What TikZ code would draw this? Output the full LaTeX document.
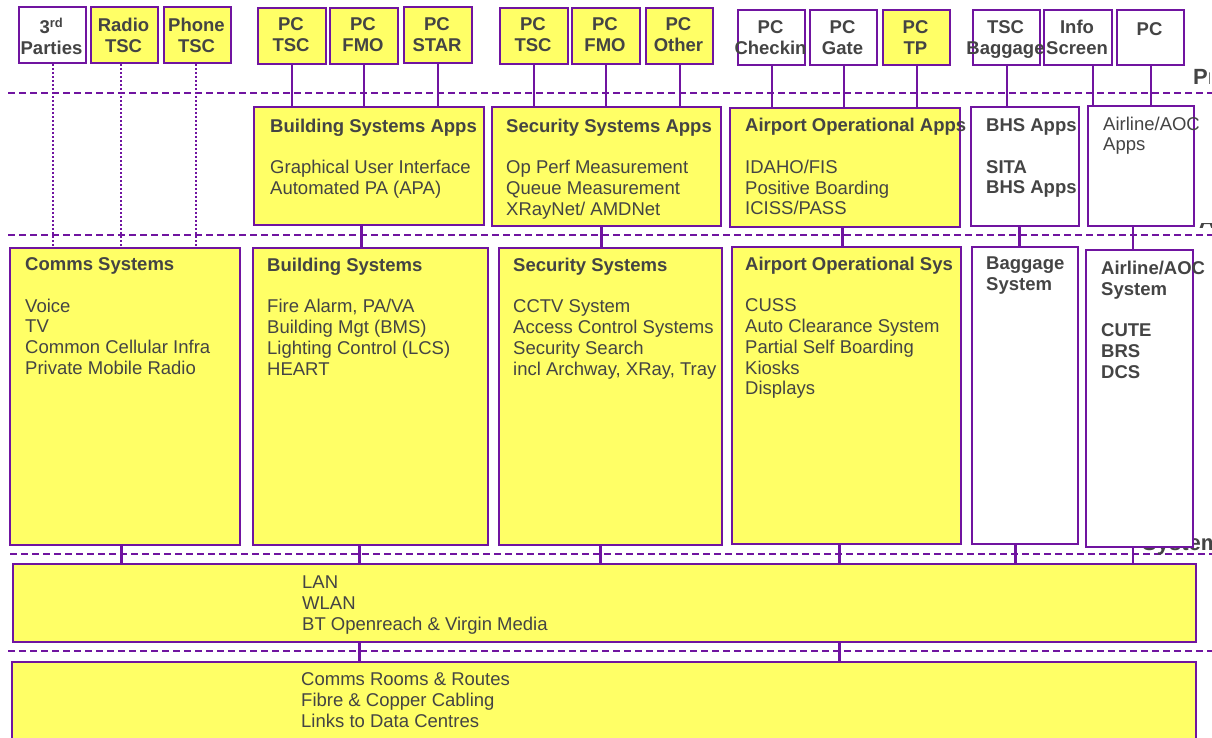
\documentclass[tikz,border=0pt]{standalone}
\usepackage{fontspec}
\setmainfont{Liberation Sans}
\definecolor{pur}{RGB}{112,20,160}
\definecolor{yel}{RGB}{255,255,102}
\definecolor{tgray}{RGB}{68,68,68}
\newcommand\bx[6]{\node[#6, anchor=north west, minimum width={(#4-#2)*1pt}, minimum height={(#5-#3)*1pt}] (#1) at (#2,#3) {};}
\tikzset{
  box/.style={draw=pur, line width=2pt, fill=yel, rectangle, inner sep=0pt},
  wbox/.style={box, fill=white},
  txt/.style={anchor=north west, inner sep=0pt, align=left, text=tgray, font=\fontsize{18.5}{20.8}\selectfont, execute at begin node=\strut, yshift=-2pt},
  btxt/.style={txt, font=\bfseries\fontsize{18.5}{20.8}\selectfont},
  ttxt/.style={anchor=north, inner sep=0pt, align=center, text=tgray, font=\bfseries\fontsize{18.5}{21}\selectfont, execute at begin node=\strut, yshift=-2pt},
  lbl/.style={anchor=base west, inner sep=0pt, text=tgray, font=\bfseries\fontsize{22}{26}\selectfont},
  link/.style={draw=pur, line width=2pt},
  tlink/.style={draw=pur, line width=3pt},
  dline/.style={draw=pur, line width=2pt, dash pattern=on 7pt off 4pt},
  dotl/.style={draw=pur, line width=2pt, dotted}
}
\begin{document}
\begin{tikzpicture}[x=1pt,y=-1pt]
\useasboundingbox (0,0) rectangle (1212,738);
% layer separators
\draw[dline] (8,93) -- (1212,93);
\draw[dline] (8,235) -- (1212,235);
\draw[dline] (10,554) -- (1212,554);
\draw[dline] (8,651) -- (1212,651);
% cut layer labels
\begin{scope}
\clip (1185,60) rectangle (1209,92);
\node[lbl] (lpres) at (1193,85) {Presentation};
\end{scope}
\node[lbl] (lsys) at (1142,550) {Systems};
\begin{scope}
\clip (1195,223) rectangle (1212,232);
\node[lbl] (lapp) at (1199,229) {Applications};
\end{scope}
% top boxes
\bx{tp}{18}{6}{85}{62}{wbox}
\bx{rtsc}{90}{6}{157}{62}{box}
\bx{ptsc}{163}{6}{230}{62}{box}
\bx{pctsca}{257}{7}{325}{63}{box}
\bx{pcfmoa}{329}{7}{397}{63}{box}
\bx{pcstar}{403}{6}{471}{62}{box}
\bx{pctscb}{499}{7}{567}{63}{box}
\bx{pcfmob}{571}{7}{639}{63}{box}
\bx{pcoth}{645}{7}{712}{63}{box}
\bx{pcchk}{737}{9}{804}{64}{wbox}
\bx{pcgate}{809}{9}{876}{64}{wbox}
\bx{pctp}{882}{9}{949}{64}{box}
\bx{tscbag}{972}{9}{1039}{64}{wbox}
\bx{info}{1043}{9}{1111}{64}{wbox}
\bx{pcl}{1116}{9}{1183}{64}{wbox}
\node[ttxt] (t1) at (51.5,16) {3\textsuperscript{rd}\\Parties};
\node[ttxt] (t2) at (123.5,16) {Radio\\TSC};
\node[ttxt] (t3) at (196.5,16) {Phone\\TSC};
\node[ttxt] (t4) at (291,15.8) {PC\\TSC};
\node[ttxt] (t5) at (363,15.8) {PC\\FMO};
\node[ttxt] (t6) at (437,15) {PC\\STAR};
\node[ttxt] (t7) at (533,15.8) {PC\\TSC};
\node[ttxt] (t8) at (605,15.8) {PC\\FMO};
\node[ttxt] (t9) at (678.5,15.8) {PC\\Other};
\node[ttxt] (t10) at (770.5,18.3) {PC\\Checkin};
\node[ttxt] (t11) at (842.5,18.3) {PC\\Gate};
\node[ttxt] (t12) at (915.5,18.3) {PC\\TP};
\node[ttxt] (t13) at (1005.5,18.3) {TSC\\Baggage};
\node[ttxt] (t14) at (1077,18.3) {Info\\Screen};
\node[ttxt] (t15) at (1149.5,18.3) {PC};
% application boxes
\bx{bapps}{253}{106}{483}{224}{box}
\bx{sapps}{491}{106}{720}{225}{box}
\bx{aapps}{729}{107}{959}{226}{box}
\bx{bhsapps}{970}{106}{1078}{225}{wbox}
\bx{alapps}{1087}{105}{1193}{225}{wbox}
\node[txt] (tba) at (270,116.4) {\textbf{Building Systems Apps}\\[20.8pt]Graphical User Interface\\Automated PA (APA)};
\node[txt] (tsa) at (506,116.4) {\textbf{Security Systems Apps}\\[20.8pt]Op Perf Measurement\\Queue Measurement\\XRayNet/ AMDNet};
\node[txt] (taa) at (745,116.1) {\textbf{Airport Operational Apps}\\[20.8pt]IDAHO/FIS\\Positive Boarding\\ICISS/PASS};
\node[btxt] (tbh) at (986,116.4) {BHS Apps\\[20.8pt]SITA\\BHS Apps};
\node[txt] (tal) at (1103,114.4) {Airline/AOC\\Apps};
% system boxes
\bx{comms}{9}{247}{239}{544}{box}
\bx{bsys}{252}{247}{487}{544}{box}
\bx{ssys}{498}{247}{721}{544}{box}
\bx{asys}{731}{246}{960}{543}{box}
\bx{bagsys}{971}{246}{1077}{543}{wbox}
\bx{alsys}{1085}{249}{1192}{546}{wbox}
\node[txt] (tcs) at (25,255.4) {\textbf{Comms Systems}\\[20.8pt]Voice\\TV\\Common Cellular Infra\\Private Mobile Radio};
\node[txt] (tbs) at (267,255.4) {\textbf{Building Systems}\\[20.8pt]Fire Alarm, PA/VA\\Building Mgt (BMS)\\Lighting Control (LCS)\\HEART};
\node[txt] (tss) at (513,255.4) {\textbf{Security Systems}\\[20.8pt]CCTV System\\Access Control Systems\\Security Search\\incl Archway, XRay, Tray};
\node[txt] (tas) at (745,254.5) {\textbf{Airport Operational Sys}\\[20.8pt]CUSS\\Auto Clearance System\\Partial Self Boarding\\Kiosks\\Displays};
\node[btxt] (tbg) at (986,254.5) {Baggage\\System};
\node[btxt] (tals) at (1101,258.7) {Airline/AOC\\System\\[20.8pt]CUTE\\BRS\\DCS};
% network and infrastructure
\bx{lan}{12}{563}{1195}{641}{box}
\bx{infra}{11}{661}{1195}{748}{box}
\node[txt] (tlan) at (302,573.7) {LAN\\WLAN\\BT Openreach \& Virgin Media};
\node[txt] (tinf) at (301,670.4) {Comms Rooms \& Routes\\Fibre \& Copper Cabling\\Links to Data Centres};
% connectors top -> apps
\foreach \s/\t in {pctsca/bapps, pcfmoa/bapps, pcstar/bapps, pctscb/sapps, pcfmob/sapps, pcoth/sapps, pcchk/aapps, pcgate/aapps, pctp/aapps, tscbag/bhsapps, pcl/alapps}
  \draw[link] (\s.south) -- (\s.south |- \t.north);
\draw[link] ([xshift=15pt]info.south) -- ([xshift=15pt]info.south |- alapps.north);
% dotted
\draw[dotl] (tp.south) -- (tp.south |- comms.north);
\draw[dotl] ([xshift=-3.5pt]rtsc.south) -- ([xshift=-3.5pt]rtsc.south |- comms.north);
\draw[dotl] ([xshift=-1.5pt]ptsc.south) -- ([xshift=-1.5pt]ptsc.south |- comms.north);
% apps -> systems
\draw[tlink] (361,0 |- bapps.south) -- (361,0 |- bsys.north);
\draw[tlink] (601,0 |- sapps.south) -- (601,0 |- ssys.north);
\draw[tlink] (842,0 |- aapps.south) -- (842,0 |- asys.north);
\draw[tlink] (1019,0 |- bhsapps.south) -- (1019,0 |- bagsys.north);
\draw[link] (1133,0 |- alapps.south) -- (1133,0 |- alsys.north);
% systems -> LAN
\draw[tlink] (121,0 |- comms.south) -- (121,0 |- lan.north);
\draw[tlink] (359,0 |- bsys.south) -- (359,0 |- lan.north);
\draw[tlink] (600,0 |- ssys.south) -- (600,0 |- lan.north);
\draw[tlink] (839,0 |- asys.south) -- (839,0 |- lan.north);
\draw[tlink] (1015,0 |- bagsys.south) -- (1015,0 |- lan.north);
\draw[link] (1133,0 |- alsys.south) -- (1133,0 |- lan.north);
% LAN -> infrastructure
\draw[tlink] (359,0 |- lan.south) -- (359,0 |- infra.north);
\draw[tlink] (839,0 |- lan.south) -- (839,0 |- infra.north);
\end{tikzpicture}
\end{document}
